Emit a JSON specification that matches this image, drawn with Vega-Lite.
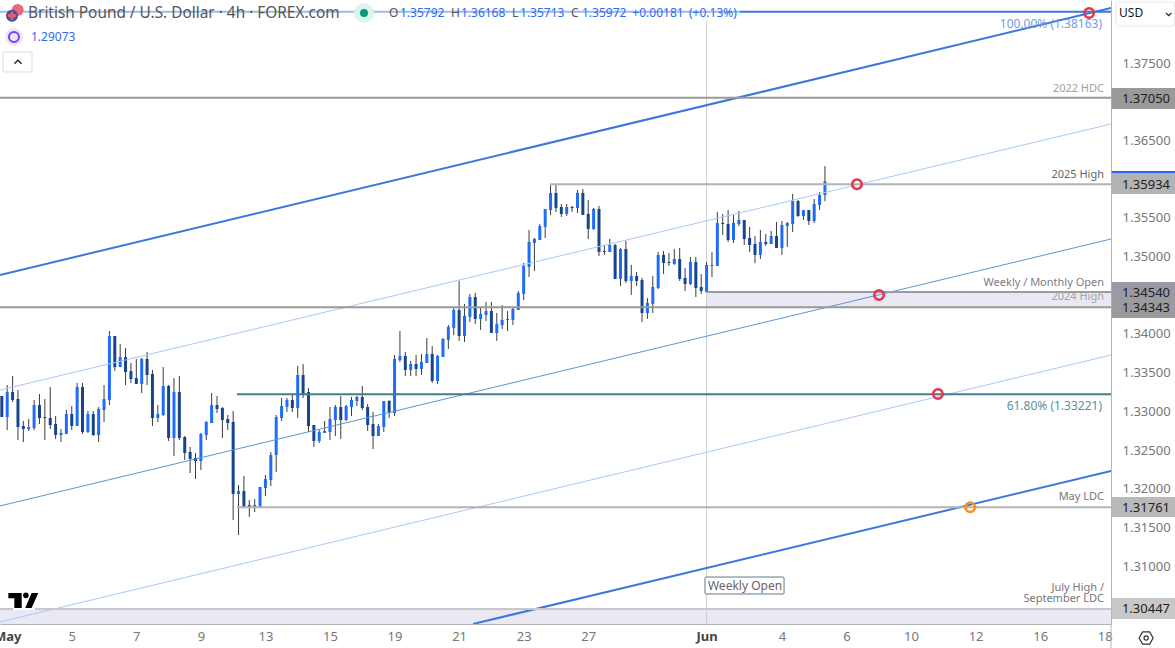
{
  "$schema": "https://vega.github.io/schema/vega-lite/v6.json",
  "description": "GBP/USD 4h candles with channel lines and horizontal levels",
  "width": 1111,
  "height": 624,
  "autosize": {"type": "none"},
  "padding": {"left": 0, "top": 0, "right": 64, "bottom": 24},
  "background": "white",
  "config": {"view": {"stroke": null}, "font": "Noto Sans", "text": {"font": "Noto Sans"}},
  "datasets": {
    "candles": [
      {"bar":-1,"o":1.33198,"h":1.33198,"l":1.32926,"c":1.32926},
      {"bar":0,"o":1.32926,"h":1.33340,"l":1.32758,"c":1.33249},
      {"bar":1,"o":1.33249,"h":1.33456,"l":1.33120,"c":1.33146},
      {"bar":2,"o":1.33159,"h":1.33275,"l":1.32629,"c":1.32797},
      {"bar":3,"o":1.32810,"h":1.32875,"l":1.32603,"c":1.32771},
      {"bar":4,"o":1.32771,"h":1.32900,"l":1.32745,"c":1.32797},
      {"bar":5,"o":1.32784,"h":1.33146,"l":1.32758,"c":1.33081},
      {"bar":6,"o":1.33081,"h":1.33223,"l":1.32836,"c":1.32913},
      {"bar":7,"o":1.32926,"h":1.33159,"l":1.32629,"c":1.32913},
      {"bar":8,"o":1.32913,"h":1.33314,"l":1.32771,"c":1.32823},
      {"bar":9,"o":1.32836,"h":1.32939,"l":1.32642,"c":1.32694},
      {"bar":10,"o":1.32694,"h":1.32771,"l":1.32603,"c":1.32720},
      {"bar":11,"o":1.32707,"h":1.33017,"l":1.32707,"c":1.32965},
      {"bar":12,"o":1.32965,"h":1.33068,"l":1.32758,"c":1.32810},
      {"bar":13,"o":1.32810,"h":1.33366,"l":1.32810,"c":1.33314},
      {"bar":14,"o":1.33314,"h":1.33366,"l":1.32707,"c":1.32732},
      {"bar":15,"o":1.32732,"h":1.33004,"l":1.32720,"c":1.32965},
      {"bar":16,"o":1.32965,"h":1.33004,"l":1.32681,"c":1.32694},
      {"bar":17,"o":1.32694,"h":1.33055,"l":1.32603,"c":1.33030},
      {"bar":18,"o":1.33017,"h":1.33340,"l":1.32862,"c":1.33159},
      {"bar":19,"o":1.33146,"h":1.34037,"l":1.33081,"c":1.33973},
      {"bar":20,"o":1.33973,"h":1.33973,"l":1.33521,"c":1.33572},
      {"bar":21,"o":1.33572,"h":1.33869,"l":1.33572,"c":1.33701},
      {"bar":22,"o":1.33701,"h":1.33818,"l":1.33340,"c":1.33508},
      {"bar":23,"o":1.33521,"h":1.33624,"l":1.33366,"c":1.33417},
      {"bar":24,"o":1.33430,"h":1.33676,"l":1.33353,"c":1.33353},
      {"bar":25,"o":1.33353,"h":1.33689,"l":1.33236,"c":1.33676},
      {"bar":26,"o":1.33676,"h":1.33766,"l":1.33340,"c":1.33469},
      {"bar":27,"o":1.33482,"h":1.33534,"l":1.32810,"c":1.32913},
      {"bar":28,"o":1.32913,"h":1.33081,"l":1.32862,"c":1.32965},
      {"bar":29,"o":1.32952,"h":1.33572,"l":1.32939,"c":1.33327},
      {"bar":30,"o":1.33327,"h":1.33340,"l":1.32616,"c":1.32655},
      {"bar":31,"o":1.32655,"h":1.33430,"l":1.32422,"c":1.33249},
      {"bar":32,"o":1.33249,"h":1.33456,"l":1.32629,"c":1.32655},
      {"bar":33,"o":1.32668,"h":1.32681,"l":1.32371,"c":1.32461},
      {"bar":34,"o":1.32474,"h":1.32539,"l":1.32203,"c":1.32384},
      {"bar":35,"o":1.32397,"h":1.32461,"l":1.32125,"c":1.32358},
      {"bar":36,"o":1.32358,"h":1.32720,"l":1.32241,"c":1.32707},
      {"bar":37,"o":1.32694,"h":1.32875,"l":1.32629,"c":1.32862},
      {"bar":38,"o":1.32849,"h":1.33236,"l":1.32849,"c":1.33081},
      {"bar":39,"o":1.33081,"h":1.33198,"l":1.32978,"c":1.33030},
      {"bar":40,"o":1.33043,"h":1.33055,"l":1.32655,"c":1.32888},
      {"bar":41,"o":1.32900,"h":1.32952,"l":1.32758,"c":1.32849},
      {"bar":42,"o":1.32862,"h":1.33004,"l":1.31595,"c":1.31931},
      {"bar":43,"o":1.31931,"h":1.32048,"l":1.31402,"c":1.31970},
      {"bar":44,"o":1.31970,"h":1.32164,"l":1.31763,"c":1.31763},
      {"bar":45,"o":1.31789,"h":1.31854,"l":1.31634,"c":1.31763},
      {"bar":46,"o":1.31763,"h":1.31867,"l":1.31699,"c":1.31789},
      {"bar":47,"o":1.31763,"h":1.32022,"l":1.31763,"c":1.32022},
      {"bar":48,"o":1.32009,"h":1.32177,"l":1.31906,"c":1.32125},
      {"bar":49,"o":1.32112,"h":1.32474,"l":1.32035,"c":1.32435},
      {"bar":50,"o":1.32435,"h":1.32952,"l":1.32216,"c":1.32926},
      {"bar":51,"o":1.32914,"h":1.33172,"l":1.32875,"c":1.33069},
      {"bar":52,"o":1.33056,"h":1.33172,"l":1.32991,"c":1.33146},
      {"bar":53,"o":1.33146,"h":1.33211,"l":1.32991,"c":1.33043},
      {"bar":54,"o":1.33043,"h":1.33586,"l":1.32914,"c":1.33469},
      {"bar":55,"o":1.33469,"h":1.33611,"l":1.33172,"c":1.33224},
      {"bar":56,"o":1.33250,"h":1.33301,"l":1.32733,"c":1.32810},
      {"bar":57,"o":1.32823,"h":1.32823,"l":1.32539,"c":1.32617},
      {"bar":58,"o":1.32617,"h":1.32759,"l":1.32591,"c":1.32733},
      {"bar":59,"o":1.32720,"h":1.32875,"l":1.32720,"c":1.32746},
      {"bar":60,"o":1.32733,"h":1.33056,"l":1.32629,"c":1.32901},
      {"bar":61,"o":1.32888,"h":1.33082,"l":1.32681,"c":1.33056},
      {"bar":62,"o":1.33056,"h":1.33198,"l":1.32642,"c":1.32888},
      {"bar":63,"o":1.32888,"h":1.33082,"l":1.32875,"c":1.33069},
      {"bar":64,"o":1.33056,"h":1.33185,"l":1.32940,"c":1.33146},
      {"bar":65,"o":1.33133,"h":1.33198,"l":1.33069,"c":1.33185},
      {"bar":66,"o":1.33185,"h":1.33327,"l":1.33017,"c":1.33043},
      {"bar":67,"o":1.33056,"h":1.33095,"l":1.32746,"c":1.32823},
      {"bar":68,"o":1.32836,"h":1.32991,"l":1.32513,"c":1.32681},
      {"bar":69,"o":1.32681,"h":1.32836,"l":1.32681,"c":1.32810},
      {"bar":70,"o":1.32797,"h":1.33133,"l":1.32733,"c":1.33133},
      {"bar":71,"o":1.33133,"h":1.33146,"l":1.32914,"c":1.32978},
      {"bar":72,"o":1.32978,"h":1.33728,"l":1.32940,"c":1.33676},
      {"bar":73,"o":1.33663,"h":1.34038,"l":1.33637,"c":1.33715},
      {"bar":74,"o":1.33715,"h":1.33767,"l":1.33456,"c":1.33534},
      {"bar":75,"o":1.33534,"h":1.33650,"l":1.33456,"c":1.33611},
      {"bar":76,"o":1.33611,"h":1.33728,"l":1.33456,"c":1.33547},
      {"bar":77,"o":1.33547,"h":1.33741,"l":1.33469,"c":1.33637},
      {"bar":78,"o":1.33624,"h":1.33947,"l":1.33624,"c":1.33741},
      {"bar":79,"o":1.33741,"h":1.33844,"l":1.33366,"c":1.33392},
      {"bar":80,"o":1.33392,"h":1.33728,"l":1.33353,"c":1.33715},
      {"bar":81,"o":1.33702,"h":1.33947,"l":1.33702,"c":1.33935},
      {"bar":82,"o":1.33922,"h":1.34115,"l":1.33805,"c":1.34090},
      {"bar":83,"o":1.34077,"h":1.34348,"l":1.33986,"c":1.34309},
      {"bar":84,"o":1.34309,"h":1.34684,"l":1.33909,"c":1.33973},
      {"bar":85,"o":1.33973,"h":1.34387,"l":1.33896,"c":1.34232},
      {"bar":86,"o":1.34219,"h":1.34516,"l":1.34154,"c":1.34477},
      {"bar":87,"o":1.34477,"h":1.34529,"l":1.34128,"c":1.34193},
      {"bar":88,"o":1.34193,"h":1.34348,"l":1.34051,"c":1.34258},
      {"bar":89,"o":1.34245,"h":1.34413,"l":1.34167,"c":1.34296},
      {"bar":90,"o":1.34296,"h":1.34413,"l":1.34012,"c":1.34012},
      {"bar":91,"o":1.34012,"h":1.34270,"l":1.33909,"c":1.34128},
      {"bar":92,"o":1.34115,"h":1.34374,"l":1.34064,"c":1.34180},
      {"bar":93,"o":1.34180,"h":1.34296,"l":1.34038,"c":1.34193},
      {"bar":94,"o":1.34180,"h":1.34335,"l":1.34115,"c":1.34322},
      {"bar":95,"o":1.34309,"h":1.34555,"l":1.34309,"c":1.34529},
      {"bar":96,"o":1.34516,"h":1.34916,"l":1.34438,"c":1.34878},
      {"bar":97,"o":1.34865,"h":1.35343,"l":1.34736,"c":1.35188},
      {"bar":98,"o":1.35175,"h":1.35239,"l":1.34813,"c":1.35227},
      {"bar":99,"o":1.35214,"h":1.35420,"l":1.35214,"c":1.35394},
      {"bar":100,"o":1.35382,"h":1.35614,"l":1.35239,"c":1.35614},
      {"bar":101,"o":1.35601,"h":1.35924,"l":1.35537,"c":1.35821},
      {"bar":102,"o":1.35821,"h":1.35924,"l":1.35575,"c":1.35627},
      {"bar":103,"o":1.35640,"h":1.35679,"l":1.35511,"c":1.35550},
      {"bar":104,"o":1.35550,"h":1.35679,"l":1.35524,"c":1.35640},
      {"bar":105,"o":1.35640,"h":1.35653,"l":1.35575,"c":1.35627},
      {"bar":106,"o":1.35627,"h":1.35860,"l":1.35562,"c":1.35821},
      {"bar":107,"o":1.35821,"h":1.35873,"l":1.35537,"c":1.35537},
      {"bar":108,"o":1.35550,"h":1.35730,"l":1.35227,"c":1.35356},
      {"bar":109,"o":1.35356,"h":1.35627,"l":1.35343,"c":1.35614},
      {"bar":110,"o":1.35614,"h":1.35653,"l":1.35007,"c":1.35059},
      {"bar":111,"o":1.35071,"h":1.35149,"l":1.35020,"c":1.35059},
      {"bar":112,"o":1.35059,"h":1.35227,"l":1.35059,"c":1.35149},
      {"bar":113,"o":1.35149,"h":1.35162,"l":1.34710,"c":1.34710},
      {"bar":114,"o":1.34710,"h":1.35110,"l":1.34619,"c":1.35097},
      {"bar":115,"o":1.35097,"h":1.35201,"l":1.34658,"c":1.34684},
      {"bar":116,"o":1.34684,"h":1.34891,"l":1.34503,"c":1.34748},
      {"bar":117,"o":1.34748,"h":1.34800,"l":1.34619,"c":1.34684},
      {"bar":118,"o":1.34697,"h":1.34723,"l":1.34154,"c":1.34270},
      {"bar":119,"o":1.34270,"h":1.34464,"l":1.34193,"c":1.34400},
      {"bar":120,"o":1.34387,"h":1.34748,"l":1.34270,"c":1.34606},
      {"bar":121,"o":1.34593,"h":1.35059,"l":1.34580,"c":1.35020},
      {"bar":122,"o":1.35020,"h":1.35071,"l":1.34774,"c":1.34916},
      {"bar":123,"o":1.34929,"h":1.35046,"l":1.34878,"c":1.34916},
      {"bar":124,"o":1.34903,"h":1.35097,"l":1.34891,"c":1.34968},
      {"bar":125,"o":1.34968,"h":1.35110,"l":1.34684,"c":1.34710},
      {"bar":126,"o":1.34723,"h":1.34852,"l":1.34555,"c":1.34645},
      {"bar":127,"o":1.34645,"h":1.34994,"l":1.34632,"c":1.34929},
      {"bar":128,"o":1.34929,"h":1.34994,"l":1.34477,"c":1.34593},
      {"bar":129,"o":1.34606,"h":1.34774,"l":1.34516,"c":1.34555},
      {"bar":130,"o":1.34541,"h":1.34929,"l":1.34541,"c":1.34890},
      {"bar":131,"o":1.34877,"h":1.35058,"l":1.34735,"c":1.34890},
      {"bar":132,"o":1.34877,"h":1.35575,"l":1.34877,"c":1.35433},
      {"bar":133,"o":1.35433,"h":1.35549,"l":1.35278,"c":1.35420},
      {"bar":134,"o":1.35420,"h":1.35601,"l":1.35188,"c":1.35213},
      {"bar":135,"o":1.35213,"h":1.35536,"l":1.35175,"c":1.35433},
      {"bar":136,"o":1.35420,"h":1.35588,"l":1.35394,"c":1.35472},
      {"bar":137,"o":1.35472,"h":1.35472,"l":1.35149,"c":1.35226},
      {"bar":138,"o":1.35239,"h":1.35381,"l":1.35058,"c":1.35149},
      {"bar":139,"o":1.35162,"h":1.35265,"l":1.34916,"c":1.35020},
      {"bar":140,"o":1.35020,"h":1.35343,"l":1.34968,"c":1.35188},
      {"bar":141,"o":1.35188,"h":1.35291,"l":1.35136,"c":1.35162},
      {"bar":142,"o":1.35162,"h":1.35330,"l":1.35162,"c":1.35265},
      {"bar":143,"o":1.35265,"h":1.35446,"l":1.35110,"c":1.35110},
      {"bar":144,"o":1.35110,"h":1.35459,"l":1.35020,"c":1.35407},
      {"bar":145,"o":1.35394,"h":1.35446,"l":1.35123,"c":1.35433},
      {"bar":146,"o":1.35420,"h":1.35808,"l":1.35317,"c":1.35717},
      {"bar":147,"o":1.35717,"h":1.35730,"l":1.35511,"c":1.35523},
      {"bar":148,"o":1.35523,"h":1.35601,"l":1.35472,"c":1.35601},
      {"bar":149,"o":1.35601,"h":1.35601,"l":1.35407,"c":1.35459},
      {"bar":150,"o":1.35459,"h":1.35743,"l":1.35433,"c":1.35679},
      {"bar":151,"o":1.35666,"h":1.35834,"l":1.35601,"c":1.35795},
      {"bar":152,"o":1.35792,"h":1.36168,"l":1.35713,"c":1.35972}
    ],
    "channelsThick": [
      {"line":"upper","bar":-1.34,"price":1.34761},
      {"line":"upper","bar":205.17,"price":1.38211},
      {"line":"lower","bar":86.6,"price":1.30252},
      {"line":"lower","bar":205.17,"price":1.32229}
    ],
    "channelsThin": [
      {"line":"upperMid","bar":-1.34,"price":1.33275},
      {"line":"upperMid","bar":205.17,"price":1.36712},
      {"line":"median","bar":-1.34,"price":1.31777},
      {"line":"median","bar":205.17,"price":1.35226},
      {"line":"lowerMid","bar":-1.34,"price":1.30278},
      {"line":"lowerMid","bar":205.17,"price":1.33727}
    ],
    "levels": [
      {"level":"100","bar":-1.34,"bar2":205.17,"price":1.38163},
      {"level":"hdc","bar":-1.34,"bar2":205.17,"price":1.3705},
      {"level":"high25","bar":100.9,"bar2":205.17,"price":1.35934},
      {"level":"open","bar":130,"bar2":205.17,"price":1.3454},
      {"level":"high24","bar":-1.34,"bar2":205.17,"price":1.34343},
      {"level":"fib","bar":42.7,"bar2":205.17,"price":1.33221},
      {"level":"ldc","bar":42.7,"bar2":205.17,"price":1.31761},
      {"level":"july","bar":-1.34,"bar2":205.17,"price":1.30447},
      {"level":"last","bar":205.3,"bar2":217.1,"price":1.36092}
    ],
    "verticals": [
      {"name":"weekly","bar":130,"price":1.3805,"price2":1.30252},
      {"name":"edge","bar":205.17,"price":1.30252,"price2":1.29942}
    ],
    "zones": [
      {"bar":130,"bar2":205.17,"price":1.34343,"price2":1.3454},
      {"bar":-1.34,"bar2":205.17,"price":1.30252,"price2":1.30447}
    ],
    "veils": [
      {"bar":-1.34,"bar2":136.2,"price":1.38249,"price2":1.38056}
    ],
    "knockout": [
      {"bar":1.08,"bar2":5.17,"price":1.30497,"price2":1.30433}
    ],
    "tags": [
      {"tag":"1.37050","bar":205.3,"bar2":217.1,"price":1.37177,"price2":1.36906},
      {"tag":"1.35934","bar":205.3,"bar2":217.1,"price":1.36079,"price2":1.35808},
      {"tag":"1.34540","bar":205.3,"bar2":217.1,"price":1.34671,"price2":1.34438},
      {"tag":"1.34343","bar":205.3,"bar2":217.1,"price":1.34438,"price2":1.34205},
      {"tag":"1.31761","bar":205.3,"bar2":217.1,"price":1.31893,"price2":1.31634},
      {"tag":"1.30447","bar":205.3,"bar2":217.1,"price":1.30588,"price2":1.30317}
    ],
    "tagText": [
      {"text":"1.37050","bar":207.2,"price":1.37035},
      {"text":"1.35934","bar":207.2,"price":1.35925},
      {"text":"1.34540","bar":207.2,"price":1.34530},
      {"text":"1.34343","bar":207.2,"price":1.34335},
      {"text":"1.31761","bar":207.2,"price":1.31750},
      {"text":"1.30447","bar":207.2,"price":1.30440}
    ],
    "boxes": [
      {"box":"weekly","bar":129.7,"bar2":144.4,"price":1.30859,"price2":1.3064},
      {"box":"fold","bar":-0.78,"bar2":4.61,"price":1.37642,"price2":1.37384},
      {"box":"usd","bar":206.1,"bar2":217.0,"price":1.38288,"price2":1.37978}
    ],
    "rings": [
      {"ring":"red","bar":157.95,"price":1.35934},
      {"ring":"red","bar":162.05,"price":1.34503},
      {"ring":"red","bar":173,"price":1.33223},
      {"ring":"orange","bar":179,"price":1.31761},
      {"ring":"red","bar":201.1,"price":1.38146}
    ],
    "smallLabels": [
      {"label":"2022 HDC","bar":203.87,"price":1.37164},
      {"label":"2025 High","bar":203.87,"price":1.36053},
      {"label":"Weekly / Monthly Open","bar":203.87,"price":1.34658},
      {"label":"2024 High","bar":203.87,"price":1.34477},
      {"label":"May LDC","bar":203.87,"price":1.31893},
      {"label":"July High /","bar":203.87,"price":1.30717},
      {"label":"September LDC","bar":203.87,"price":1.30575}
    ],
    "fibLabels": [
      {"label":"100.00% (1.38163)","bar":203.5,"price":1.38004},
      {"label":"61.80% (1.33221)","bar":203.5,"price":1.33069}
    ],
    "weeklyLabel": [{"label":"Weekly Open","bar":137.14,"price":1.30743}],
    "titleRow": [{"label":"British Pound / U.S. Dollar · 4h · FOREX.com","bar":3.87,"price":1.38146}],
    "ohlcLetters": [
      {"label":"O","bar":70.97,"price":1.38146},
      {"label":"H","bar":82.5,"price":1.38146},
      {"label":"L","bar":93.83,"price":1.38146},
      {"label":"C","bar":104.8,"price":1.38146}
    ],
    "ohlcValues": [
      {"label":"1.35792","bar":73.01,"price":1.38146},
      {"label":"1.36168","bar":84.34,"price":1.38146},
      {"label":"1.35713","bar":95.32,"price":1.38146},
      {"label":"1.35972","bar":106.84,"price":1.38146},
      {"label":"+0.00181","bar":116.2,"price":1.38146},
      {"label":"(+0.13%)","bar":126.73,"price":1.38146},
      {"label":"1.29073","bar":4.42,"price":1.37836}
    ],
    "usdLabel": [{"label":"USD","bar":206.66,"price":1.38146}],
    "usFlag": [{"bar":1.95,"price":1.38185}],
    "ukFlag": [{"bar":0.89,"price":1.38112}],
    "marketDot": [{"bar":66.32,"price":1.38146}],
    "syncIcon": [{"bar":1.26,"price":1.37836}],
    "logo": [{"bar":3.0,"price":1.30557}],
    "foldChevron": [{"bar":2.0,"price":1.37513}],
    "usdChevron": [{"bar":215.9,"price":1.3813}],
    "settings": [{"bar":211.7,"price":1.30071}]
  },
  "encoding": {
    "x": {
      "field": "bar",
      "type": "quantitative",
      "title": null,
      "scale": {"domain": [-1.338, 205.17], "nice": false, "zero": false, "padding": 0},
      "axis": {
        "values": [0, 12, 24, 36, 48, 60, 72, 84, 96, 108, 130, 144, 156, 168, 180, 192, 204],
        "labelExpr": "{'0':'May','12':'5','24':'7','36':'9','48':'13','60':'15','72':'19','84':'21','96':'23','108':'27','130':'Jun','144':'4','156':'6','168':'10','180':'12','192':'16','204':'18'}[datum.value]",
        "grid": false,
        "ticks": false,
        "domainColor": "#b4b4b4",
        "labelColor": {"condition": {"test": "datum.value == 0 || datum.value == 130", "value": "#444444"}, "value": "#777777"},
        "labelFontWeight": {"condition": {"test": "datum.value == 0 || datum.value == 130", "value": "bold"}, "value": "normal"},
        "labelFontSize": 13,
        "labelPadding": 6,
        "labelFlush": false,
        "labelOverlap": false
      }
    },
    "y": {
      "field": "price",
      "type": "quantitative",
      "title": null,
      "scale": {"domain": [1.30252, 1.38314], "nice": false, "zero": false},
      "axis": {
        "orient": "right",
        "values": [1.375, 1.365, 1.355, 1.35, 1.34, 1.335, 1.33, 1.325, 1.32, 1.315, 1.31],
        "format": ".5f",
        "grid": false,
        "ticks": false,
        "domainColor": "#b4b4b4",
        "labelColor": "#777777",
        "labelFontSize": 13,
        "labelPadding": 11
      }
    }
  },
  "resolve": {"scale": {"color": "independent"}},
  "layer": [
    {
      "data": {"name": "zones"},
      "mark": {"type": "rect", "color": "#eae8f3"},
      "encoding": {"x2": {"field": "bar2"}, "y2": {"field": "price2"}}
    },
    {
      "data": {"name": "verticals"},
      "mark": {"type": "rule", "strokeWidth": 1},
      "encoding": {
        "y2": {"field": "price2"},
        "color": {"field": "name", "type": "nominal", "legend": null, "scale": {"domain": ["weekly", "edge"], "range": ["#cfcfcf", "#b4b4b4"]}}
      }
    },
    {
      "data": {"name": "candles"},
      "mark": {"type": "rule", "strokeWidth": 1, "color": "#3c3c3c"},
      "encoding": {
        "y": {
          "field": "h",
          "type": "quantitative",
          "title": null,
          "scale": {"domain": [1.30252, 1.38314], "nice": false, "zero": false},
          "axis": {
            "orient": "right",
            "values": [1.375, 1.365, 1.355, 1.35, 1.34, 1.335, 1.33, 1.325, 1.32, 1.315, 1.31],
            "format": ".5f",
            "grid": false,
            "ticks": false,
            "domainColor": "#b4b4b4",
            "labelColor": "#777777",
            "labelFontSize": 13,
            "labelPadding": 11
          }
        },
        "y2": {"field": "l"}
      }
    },
    {
      "data": {"name": "candles"},
      "mark": {"type": "bar", "width": 3},
      "encoding": {
        "y": {
          "field": "o",
          "type": "quantitative",
          "title": null,
          "scale": {"domain": [1.30252, 1.38314], "nice": false, "zero": false},
          "axis": {
            "orient": "right",
            "values": [1.375, 1.365, 1.355, 1.35, 1.34, 1.335, 1.33, 1.325, 1.32, 1.315, 1.31],
            "format": ".5f",
            "grid": false,
            "ticks": false,
            "domainColor": "#b4b4b4",
            "labelColor": "#777777",
            "labelFontSize": 13,
            "labelPadding": 11
          }
        },
        "y2": {"field": "c"},
        "color": {"condition": {"test": "datum.c >= datum.o", "value": "#1e6cf8"}, "value": "#17458c"}
      }
    },
    {
      "data": {"name": "channelsThin"},
      "mark": {"type": "line", "clip": true, "strokeWidth": 1},
      "encoding": {
        "color": {"field": "line", "type": "nominal", "legend": null, "scale": {"domain": ["upperMid", "median", "lowerMid"], "range": ["#a9c8f6", "#5a96d6", "#a9c8f6"]}}
      }
    },
    {
      "data": {"name": "channelsThick"},
      "mark": {"type": "line", "clip": true, "strokeWidth": 2},
      "encoding": {
        "color": {"field": "line", "type": "nominal", "legend": null, "scale": {"domain": ["upper", "lower"], "range": ["#3b78dc", "#3b78dc"]}}
      }
    },
    {
      "data": {"name": "levels"},
      "mark": {"type": "rule", "strokeWidth": 2},
      "encoding": {
        "x2": {"field": "bar2"},
        "color": {"field": "level", "type": "nominal", "legend": null, "scale": {"domain": ["100", "hdc", "high25", "open", "high24", "fib", "ldc", "july", "last"], "range": ["#3b78dc", "#999999", "#b3b3b3", "#9a9aa6", "#999999", "#447d8a", "#b3b3b3", "#c8c8c8", "#2962ff"]}}
      }
    },
    {
      "data": {"name": "veils"},
      "mark": {"type": "rect", "color": "white", "opacity": 0.5},
      "encoding": {"x2": {"field": "bar2"}, "y2": {"field": "price2"}}
    },
    {
      "data": {"name": "knockout"},
      "mark": {"type": "rect", "color": "white"},
      "encoding": {"x2": {"field": "bar2"}, "y2": {"field": "price2"}}
    },
    {
      "data": {"name": "tags"},
      "mark": {"type": "rect"},
      "encoding": {
        "x2": {"field": "bar2"},
        "y2": {"field": "price2"},
        "color": {"field": "tag", "type": "nominal", "legend": null, "scale": {"domain": ["1.37050", "1.35934", "1.34540", "1.34343", "1.31761", "1.30447"], "range": ["#999999", "#b3b3b3", "#9a9aa6", "#9b9b9b", "#b9b9b9", "#c8c8c8"]}}
      }
    },
    {
      "data": {"name": "tagText"},
      "mark": {"type": "text", "align": "left", "baseline": "middle", "fontSize": 13, "color": "#222222"},
      "encoding": {"text": {"field": "text"}}
    },
    {
      "data": {"name": "boxes"},
      "mark": {"type": "rect", "fill": "white", "strokeWidth": 1, "cornerRadius": 1},
      "encoding": {
        "x2": {"field": "bar2"},
        "y2": {"field": "price2"},
        "stroke": {"field": "box", "type": "nominal", "legend": null, "scale": {"domain": ["weekly", "fold", "usd"], "range": ["#5e7a8c", "#dddddd", "#e8e8e8"]}}
      }
    },
    {"data": {"name": "usFlag"}, "mark": {"type": "point", "filled": true, "shape": "circle", "size": 144, "color": "#ea6a74", "opacity": 1}},
    {"data": {"name": "ukFlag"}, "mark": {"type": "point", "filled": true, "shape": "circle", "size": 144, "color": "#3a4f9f", "opacity": 1}},
    {"data": {"name": "ukFlag"}, "mark": {"type": "point", "filled": true, "shape": "cross", "size": 70, "color": "#e25c6c", "opacity": 1}},
    {"data": {"name": "marketDot"}, "mark": {"type": "point", "filled": true, "shape": "circle", "size": 400, "color": "#dcf3ee", "opacity": 1}},
    {"data": {"name": "marketDot"}, "mark": {"type": "point", "filled": true, "shape": "circle", "size": 64, "color": "#089981", "opacity": 1}},
    {"data": {"name": "syncIcon"}, "mark": {"type": "point", "filled": true, "shape": "circle", "size": 324, "color": "#ece6fb", "opacity": 1}},
    {"data": {"name": "syncIcon"}, "mark": {"type": "point", "filled": false, "shape": "circle", "size": 100, "strokeWidth": 2, "color": "#7a3ff0", "opacity": 1}},
    {
      "data": {"name": "logo"},
      "mark": {"type": "point", "filled": true, "size": 900, "color": "#000000", "opacity": 1, "shape": "M-1,-0.5L-0.11,-0.5L-0.11,0.5L-0.6,0.5L-0.6,-0.14L-1,-0.14Z M-0.02,-0.33a0.19,0.19 0 1,0 0.38,0a0.19,0.19 0 1,0 -0.38,0Z M0.55,-0.5L1,-0.5L0.55,0.5L0.13,0.5Z"}
    },
    {"data": {"name": "foldChevron"}, "mark": {"type": "point", "filled": false, "size": 144, "strokeWidth": 1.3, "color": "#222222", "opacity": 1, "shape": "M-0.6,0.3L0,-0.3L0.6,0.3"}},
    {"data": {"name": "usdChevron"}, "mark": {"type": "point", "filled": false, "size": 81, "strokeWidth": 1.3, "color": "#222222", "opacity": 1, "shape": "M-0.6,-0.3L0,0.3L0.6,-0.3"}},
    {"data": {"name": "settings"}, "mark": {"type": "point", "filled": false, "size": 196, "strokeWidth": 1.2, "color": "#333333", "opacity": 1, "shape": "M-1,0L-0.5,-0.87L0.5,-0.87L1,0L0.5,0.87L-0.5,0.87Z M0.3,0a0.3,0.3 0 1,0 -0.6,0a0.3,0.3 0 1,0 0.6,0Z"}},
    {
      "data": {"name": "rings"},
      "mark": {"type": "point", "filled": false, "shape": "circle", "size": 90, "strokeWidth": 2.6, "opacity": 1},
      "encoding": {
        "color": {"field": "ring", "type": "nominal", "legend": null, "scale": {"domain": ["red", "orange"], "range": ["#e8344e", "#f5921b"]}}
      }
    },
    {
      "data": {"name": "smallLabels"},
      "mark": {"type": "text", "align": "right", "baseline": "middle", "fontSize": 11},
      "encoding": {
        "text": {"field": "label"},
        "color": {"field": "label", "type": "nominal", "legend": null, "scale": {"domain": ["2022 HDC", "2025 High", "Weekly / Monthly Open", "2024 High", "May LDC", "July High /", "September LDC"], "range": ["#a0a0a0", "#666666", "#7c7c86", "#a4a4a4", "#777777", "#777777", "#777777"]}}
      }
    },
    {
      "data": {"name": "fibLabels"},
      "mark": {"type": "text", "align": "right", "baseline": "middle", "fontSize": 12},
      "encoding": {
        "text": {"field": "label"},
        "color": {"field": "label", "type": "nominal", "legend": null, "scale": {"domain": ["100.00% (1.38163)", "61.80% (1.33221)"], "range": ["#6f9be8", "#5c8f9a"]}}
      }
    },
    {
      "data": {"name": "weeklyLabel"},
      "mark": {"type": "text", "align": "center", "baseline": "middle", "fontSize": 12, "color": "#666666"},
      "encoding": {"text": {"field": "label"}}
    },
    {
      "data": {"name": "titleRow"},
      "mark": {"type": "text", "align": "left", "baseline": "middle", "fontSize": 15.4, "color": "#555555"},
      "encoding": {"text": {"field": "label"}}
    },
    {
      "data": {"name": "ohlcLetters"},
      "mark": {"type": "text", "align": "left", "baseline": "middle", "fontSize": 12, "color": "#555555"},
      "encoding": {"text": {"field": "label"}}
    },
    {
      "data": {"name": "ohlcValues"},
      "mark": {"type": "text", "align": "left", "baseline": "middle", "fontSize": 12, "color": "#2e6bf0"},
      "encoding": {"text": {"field": "label"}}
    },
    {
      "data": {"name": "usdLabel"},
      "mark": {"type": "text", "align": "left", "baseline": "middle", "fontSize": 12, "color": "#131722"},
      "encoding": {"text": {"field": "label"}}
    }
  ]
}
